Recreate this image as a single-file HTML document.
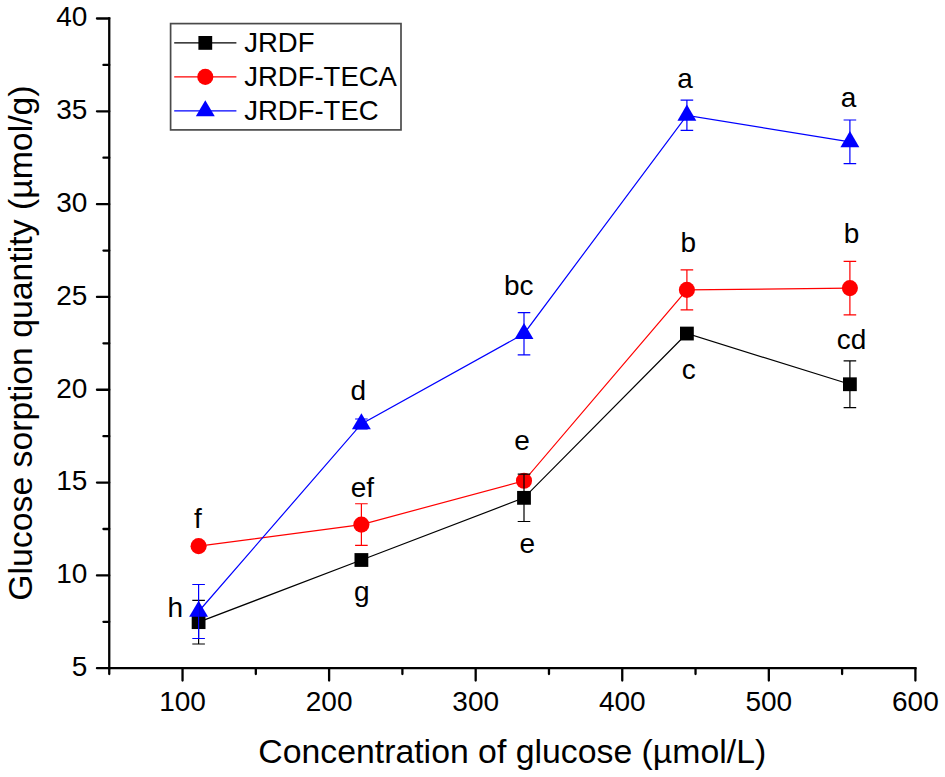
<!DOCTYPE html><html><head><meta charset="utf-8"><style>html,body{margin:0;padding:0;background:#fff;overflow:hidden;}svg{display:block;}text{font-family:"Liberation Sans", sans-serif;fill:#000;}</style></head><body>
<svg width="945" height="777" viewBox="0 0 945 777">
<rect width="945" height="777" fill="#fff"/>
<g stroke="#000" stroke-width="2.3" stroke-linecap="round" fill="none">
<line x1="109.25" y1="18.5" x2="109.25" y2="668.2" stroke-linecap="square"/>
<line x1="109.25" y1="668.2" x2="915.4" y2="668.2" stroke-linecap="square"/>
<line x1="96.95" y1="668.20" x2="109.25" y2="668.20"/>
<line x1="96.95" y1="575.39" x2="109.25" y2="575.39"/>
<line x1="96.95" y1="482.57" x2="109.25" y2="482.57"/>
<line x1="96.95" y1="389.76" x2="109.25" y2="389.76"/>
<line x1="96.95" y1="296.94" x2="109.25" y2="296.94"/>
<line x1="96.95" y1="204.13" x2="109.25" y2="204.13"/>
<line x1="96.95" y1="111.31" x2="109.25" y2="111.31"/>
<line x1="96.95" y1="18.50" x2="109.25" y2="18.50"/>
<line x1="103.45" y1="621.79" x2="109.25" y2="621.79"/>
<line x1="103.45" y1="528.98" x2="109.25" y2="528.98"/>
<line x1="103.45" y1="436.16" x2="109.25" y2="436.16"/>
<line x1="103.45" y1="343.35" x2="109.25" y2="343.35"/>
<line x1="103.45" y1="250.54" x2="109.25" y2="250.54"/>
<line x1="103.45" y1="157.72" x2="109.25" y2="157.72"/>
<line x1="103.45" y1="64.91" x2="109.25" y2="64.91"/>
<line x1="182.54" y1="668.2" x2="182.54" y2="680.5"/>
<line x1="329.11" y1="668.2" x2="329.11" y2="680.5"/>
<line x1="475.68" y1="668.2" x2="475.68" y2="680.5"/>
<line x1="622.25" y1="668.2" x2="622.25" y2="680.5"/>
<line x1="768.83" y1="668.2" x2="768.83" y2="680.5"/>
<line x1="915.40" y1="668.2" x2="915.40" y2="680.5"/>
<line x1="109.25" y1="668.2" x2="109.25" y2="674.0"/>
<line x1="255.82" y1="668.2" x2="255.82" y2="674.0"/>
<line x1="402.40" y1="668.2" x2="402.40" y2="674.0"/>
<line x1="548.97" y1="668.2" x2="548.97" y2="674.0"/>
<line x1="695.54" y1="668.2" x2="695.54" y2="674.0"/>
<line x1="842.11" y1="668.2" x2="842.11" y2="674.0"/>
</g>
<g font-size="28" text-anchor="end">
<text x="87.3" y="676.00">5</text>
<text x="87.3" y="583.19">10</text>
<text x="87.3" y="490.37">15</text>
<text x="87.3" y="397.56">20</text>
<text x="87.3" y="304.74">25</text>
<text x="87.3" y="211.93">30</text>
<text x="87.3" y="119.11">35</text>
<text x="87.3" y="26.30">40</text>
</g>
<g font-size="28" text-anchor="middle">
<text x="182.54" y="710.75">100</text>
<text x="329.11" y="710.75">200</text>
<text x="475.68" y="710.75">300</text>
<text x="622.25" y="710.75">400</text>
<text x="768.83" y="710.75">500</text>
<text x="915.40" y="710.75">600</text>
</g>
<text x="258.3" y="763" font-size="33.8">Concentration of glucose (µmol/L)</text>
<text transform="translate(32.2,600.8) rotate(-90)" x="0" y="0" font-size="33.8">Glucose sorption quantity (µmol/g)</text>
<polyline points="198.60,622.15 361.40,560.00 524.00,497.85 686.90,333.55 849.90,384.25" fill="none" stroke="#000" stroke-width="1.2"/>
<rect x="191.70" y="615.25" width="13.8" height="13.8" fill="#000"/>
<rect x="354.50" y="553.10" width="13.8" height="13.8" fill="#000"/>
<rect x="517.10" y="490.95" width="13.8" height="13.8" fill="#000"/>
<rect x="680.00" y="326.65" width="13.8" height="13.8" fill="#000"/>
<rect x="843.00" y="377.35" width="13.8" height="13.8" fill="#000"/>
<polyline points="198.60,546.15 361.40,524.60 524.00,480.80 686.90,289.90 849.90,288.10" fill="none" stroke="#f00" stroke-width="1.2"/>
<circle cx="198.60" cy="546.15" r="8.05" fill="#f00"/>
<circle cx="361.40" cy="524.60" r="8.05" fill="#f00"/>
<circle cx="524.00" cy="480.80" r="8.05" fill="#f00"/>
<circle cx="686.90" cy="289.90" r="8.05" fill="#f00"/>
<circle cx="849.90" cy="288.10" r="8.05" fill="#f00"/>
<polyline points="198.60,611.50 361.40,423.90 524.00,333.70 686.90,115.30 849.90,141.85" fill="none" stroke="#00f" stroke-width="1.2"/>
<polygon points="198.60,600.77 208.05,616.87 189.15,616.87" fill="#00f"/>
<polygon points="361.40,413.17 370.85,429.27 351.95,429.27" fill="#00f"/>
<polygon points="524.00,322.97 533.45,339.07 514.55,339.07" fill="#00f"/>
<polygon points="686.90,104.57 696.35,120.67 677.45,120.67" fill="#00f"/>
<polygon points="849.90,131.12 859.35,147.22 840.45,147.22" fill="#00f"/>
<path d="M198.60 600.30V644.00M192.30 600.30H204.90M192.30 644.00H204.90" stroke="#000" stroke-width="1.2" fill="none"/>
<path d="M524.00 474.20V521.50M517.70 474.20H530.30M517.70 521.50H530.30" stroke="#000" stroke-width="1.2" fill="none"/>
<path d="M849.90 360.80V407.70M843.60 360.80H856.20M843.60 407.70H856.20" stroke="#000" stroke-width="1.2" fill="none"/>
<path d="M361.40 503.75V545.45M355.10 503.75H367.70M355.10 545.45H367.70" stroke="#f00" stroke-width="1.2" fill="none"/>
<path d="M686.90 269.85V309.95M680.60 269.85H693.20M680.60 309.95H693.20" stroke="#f00" stroke-width="1.2" fill="none"/>
<path d="M849.90 261.30V314.90M843.60 261.30H856.20M843.60 314.90H856.20" stroke="#f00" stroke-width="1.2" fill="none"/>
<path d="M198.60 584.50V638.50M192.30 584.50H204.90M192.30 638.50H204.90" stroke="#00f" stroke-width="1.2" fill="none"/>
<path d="M361.40 419.00V428.80M355.10 419.00H367.70M355.10 428.80H367.70" stroke="#00f" stroke-width="1.2" fill="none"/>
<path d="M524.00 312.60V354.80M517.70 312.60H530.30M517.70 354.80H530.30" stroke="#00f" stroke-width="1.2" fill="none"/>
<path d="M686.90 100.20V130.40M680.60 100.20H693.20M680.60 130.40H693.20" stroke="#00f" stroke-width="1.2" fill="none"/>
<path d="M849.90 120.00V163.70M843.60 120.00H856.20M843.60 163.70H856.20" stroke="#00f" stroke-width="1.2" fill="none"/>
<g font-size="28">
<text x="677.15" y="87.97">a</text>
<text x="840.75" y="106.93">a</text>
<text x="680.55" y="251.97">b</text>
<text x="843.70" y="243.40">b</text>
<text x="503.93" y="295.05">bc</text>
<text x="836.80" y="348.90">cd</text>
<text x="681.80" y="378.75">c</text>
<text x="350.40" y="399.95">d</text>
<text x="514.15" y="450.40">e</text>
<text x="350.73" y="497.10">ef</text>
<text x="519.55" y="552.55">e</text>
<text x="194.00" y="527.85">f</text>
<text x="354.10" y="600.65">g</text>
<text x="167.60" y="617.45">h</text>
</g>
<rect x="170.6" y="23.6" width="230.4" height="106.3" fill="none" stroke="#4a4a4a" stroke-width="1.7"/>
<line x1="174.2" y1="42.9" x2="236.4" y2="42.9" stroke="#000" stroke-width="1.2"/>
<rect x="198.40" y="36.00" width="13.8" height="13.8" fill="#000"/>
<text x="244.2" y="51.60" font-size="27.5">JRDF</text>
<line x1="174.2" y1="76.9" x2="236.4" y2="76.9" stroke="#f00" stroke-width="1.2"/>
<circle cx="205.30" cy="76.90" r="8.05" fill="#f00"/>
<text x="244.2" y="85.60" font-size="27.5">JRDF-TECA</text>
<line x1="174.2" y1="110.9" x2="236.4" y2="110.9" stroke="#00f" stroke-width="1.2"/>
<polygon points="205.30,100.17 214.75,116.27 195.85,116.27" fill="#00f"/>
<text x="244.2" y="119.60" font-size="27.5">JRDF-TEC</text>
</svg></body></html>
